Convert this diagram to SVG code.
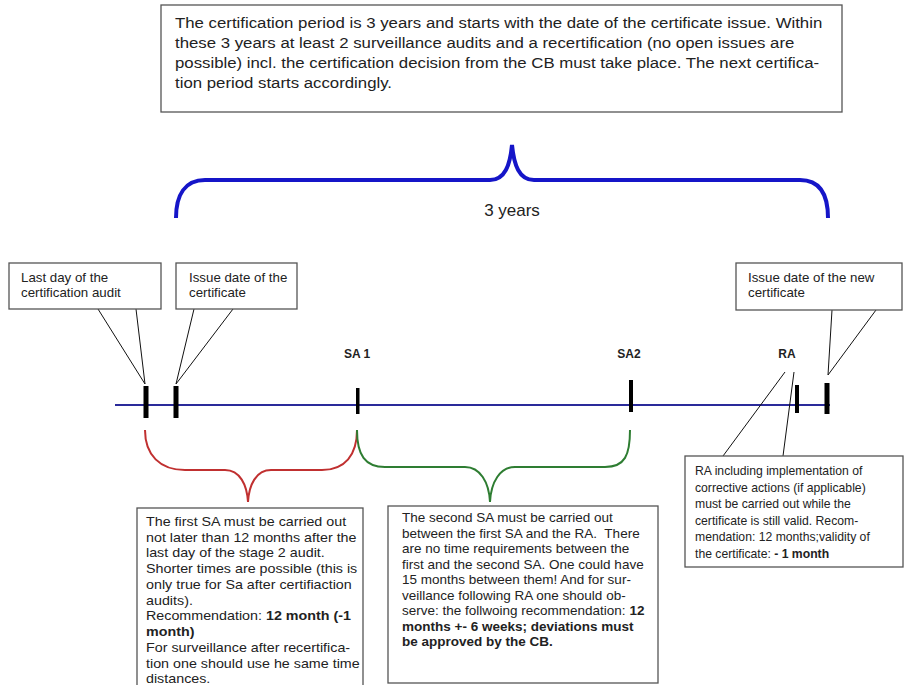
<svg xmlns="http://www.w3.org/2000/svg" width="906" height="685" viewBox="0 0 906 685">
<style>
text{font-family:"Liberation Sans",Arial,sans-serif;fill:#222}
.box{fill:#fff;stroke:#555;stroke-width:1.3}
.t15{font-size:15px}
.t13{font-size:13.3px}
.b{font-weight:bold}
.lbl{font-size:12px;font-weight:bold;text-anchor:middle}
.call{stroke:#111;stroke-width:1;fill:none}
.tick{fill:#000}
</style>
<rect width="906" height="685" fill="#fff"/>

<g id="intro">
<rect class="box" x="161" y="5" width="681" height="107"/>
<g transform="translate(175,0) scale(1.12,1) translate(-175,0)">
<text class="t15" x="175" y="28">The certification period is 3 years and starts with the date of the certificate issue. Within</text>
<text class="t15" x="175" y="48">these 3 years at least 2 surveillance audits and a recertification (no open issues are</text>
<text class="t15" x="175" y="68">possible) incl. the certification decision from the CB must take place. The next certifica-</text>
<text class="t15" x="175" y="88">tion period starts accordingly.</text>
</g>
</g>

<g id="connectors">
<path d="M176,218 C176,195 185,180 205,180 L490,180 C505,180 510,165 512,145 C514,165 519,180 534,180 L800,180 C820,180 828,195 828,218" fill="none" stroke="#1515c8" stroke-width="4"/>
<line x1="115" y1="405" x2="830" y2="405" stroke="#2a2a9a" stroke-width="2"/>
<path d="M145,430 C145,455 160,470 185,470 L225,470 C240,470 247,485 248,502 C249,485 256,470 271,470 L322,470 C345,470 357,455 357,430" fill="none" stroke="#c03030" stroke-width="2"/>
<path d="M357,430 C357,455 365,467 385,467 L465,467 C480,467 489,482 490,502 C491,482 500,467 515,467 L605,467 C625,467 630,455 630,430" fill="none" stroke="#2e7d32" stroke-width="2"/>
<line class="call" x1="98" y1="309" x2="145" y2="384"/>
<line class="call" x1="136" y1="309" x2="145" y2="384"/>
<line class="call" x1="194" y1="309" x2="176" y2="384"/>
<line class="call" x1="233" y1="309" x2="176" y2="384"/>
<line class="call" x1="832" y1="310" x2="828" y2="375"/>
<line class="call" x1="876" y1="310" x2="828" y2="375"/>
<line class="call" x1="785" y1="372" x2="723" y2="456"/>
<line class="call" x1="794" y1="372" x2="783" y2="456"/>
</g>

<g id="years-label">
<text x="512" y="216" font-size="17" text-anchor="middle">3 years</text>
</g>

<g id="ticks">
<rect class="tick" x="143.5" y="386" width="5" height="32"/>
<rect class="tick" x="173.5" y="386" width="5" height="32"/>
<rect class="tick" x="356" y="388" width="3.5" height="26"/>
<rect class="tick" x="629" y="380" width="4" height="32"/>
<rect class="tick" x="795" y="385" width="4" height="28"/>
<rect class="tick" x="824.5" y="383" width="5" height="31"/>
</g>

<g id="sa1"><text class="lbl" x="357" y="358">SA 1</text></g>
<g id="sa2"><text class="lbl" x="629" y="358">SA2</text></g>
<g id="ra"><text class="lbl" x="787" y="358">RA</text></g>

<g id="last-day">
<rect class="box" x="9" y="263" width="152" height="46"/>
<text class="t13" x="21" y="282">Last day of the</text>
<text class="t13" x="21" y="297">certification audit</text>
</g>

<g id="issue-date">
<rect class="box" x="176" y="263" width="121" height="46"/>
<text class="t13" x="189" y="282">Issue date of the</text>
<text class="t13" x="189" y="297">certificate</text>
</g>

<g id="new-issue-date">
<rect class="box" x="736" y="263" width="166" height="47"/>
<text class="t13" x="748" y="282">Issue date of the new</text>
<text class="t13" x="748" y="297">certificate</text>
</g>

<g id="first-sa">
<rect class="box" x="137" y="508" width="226" height="185"/>
<g transform="translate(146,0) scale(1.1,1) translate(-146,0)">
<text font-size="13" x="146">
<tspan x="146" y="526">The first SA must be carried out</tspan>
<tspan x="146" y="541.75">not later than 12 months after the</tspan>
<tspan x="146" y="557.5">last day of the stage 2 audit.</tspan>
<tspan x="146" y="573.25">Shorter times are possible (this is</tspan>
<tspan x="146" y="589">only true for Sa after certifiaction</tspan>
<tspan x="146" y="604.75">audits).</tspan>
<tspan x="146" y="620.5">Recommendation: <tspan class="b">12 month (-1</tspan></tspan>
<tspan x="146" y="636.25" class="b">month)</tspan>
<tspan x="146" y="652">For surveillance after recertifica-</tspan>
<tspan x="146" y="667.75">tion one should use he same time</tspan>
<tspan x="146" y="683.5">distances.</tspan>
</text>
</g>
</g>

<g id="second-sa">
<rect class="box" x="388" y="506" width="270" height="177"/>
<text font-size="13.5" x="402">
<tspan x="402" y="522">The second SA must be carried out</tspan>
<tspan x="402" y="537.5">between the first SA and the RA.&#160; There</tspan>
<tspan x="402" y="553">are no time requirements between the</tspan>
<tspan x="402" y="568.5">first and the second SA. One could have</tspan>
<tspan x="402" y="584">15 months between them! And for sur-</tspan>
<tspan x="402" y="599.5">veillance following RA one should ob-</tspan>
<tspan x="402" y="615">serve: the follwoing recommendation: <tspan class="b">12</tspan></tspan>
<tspan x="402" y="630.5" class="b">months +- 6 weeks; deviations must</tspan>
<tspan x="402" y="646" class="b">be approved by the CB.</tspan>
</text>
</g>

<g id="ra-note">
<rect class="box" x="685" y="456" width="218" height="111"/>
<text font-size="12.2" x="695">
<tspan x="695" y="475">RA including implementation of</tspan>
<tspan x="695" y="491.5">corrective actions (if applicable)</tspan>
<tspan x="695" y="508">must be carried out while the</tspan>
<tspan x="695" y="524.5">certificate is still valid. Recom-</tspan>
<tspan x="695" y="541">mendation: 12 months;validity of</tspan>
<tspan x="695" y="557.5">the certificate: <tspan class="b">- 1 month</tspan></tspan>
</text>
</g>
</svg>
